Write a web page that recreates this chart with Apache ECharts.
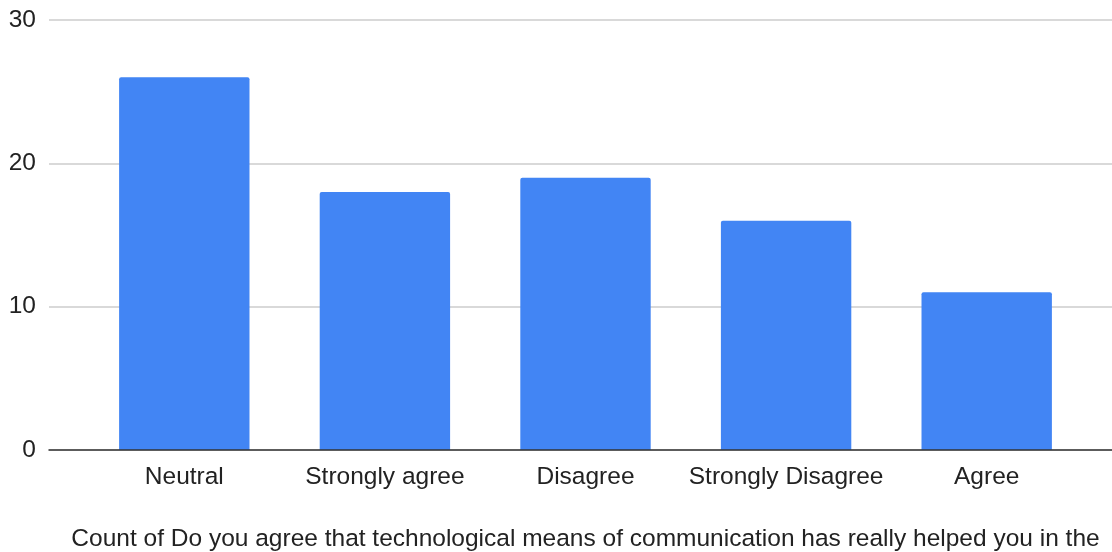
<!DOCTYPE html>
<html>
<head>
<meta charset="utf-8">
<script src="https://cdn.jsdelivr.net/npm/echarts@6/dist/echarts.min.js"></script>
<style>
  html, body { margin: 0; padding: 0; background: #fff; }
  #chart { width: 1112px; height: 552px; }
</style>
</head>
<body>
<div id="chart"></div>
<script>
// Survey answers and their counts
const categories = ['Neutral', 'Strongly agree', 'Disagree', 'Strongly Disagree', 'Agree'];
const counts = [26, 18, 19, 16, 11];
const yTicks = [0, 10, 20, 30];
const axisTitle = 'Count of Do you agree that technological means of communication has really helped you in the';

const FONT = '"Liberation Sans", Arial, sans-serif';
const TEXT = '#222';
const SIZE = 24.5;

const chart = echarts.init(document.getElementById('chart'));
chart.setOption({
  animation: false,
  backgroundColor: '#fff',
  textStyle: { fontFamily: FONT },
  grid: [
    // bars
    { left: 84, right: 25, top: 20, bottom: 102, outerBoundsMode: 'none' },
    // value scale, gridlines and baseline spanning the full width
    { left: 49, right: 0, top: 20, bottom: 102, outerBoundsMode: 'none' }
  ],
  xAxis: [
    {
      gridIndex: 0,
      type: 'category',
      data: categories,
      axisLine: { show: false },
      axisTick: { show: false },
      axisLabel: { interval: 0, margin: 15, fontSize: SIZE, color: TEXT, fontFamily: FONT },
      name: axisTitle,
      nameLocation: 'middle',
      nameGap: 77,
      nameTextStyle: { fontSize: SIZE, color: TEXT, fontFamily: FONT }
    },
    {
      gridIndex: 1,
      type: 'value',
      min: 0,
      max: 1,
      z: 5,
      axisLine: { show: true, lineStyle: { color: '#333', width: 1.5 } },
      axisTick: { show: false },
      axisLabel: { show: false },
      splitLine: { show: false }
    }
  ],
  yAxis: [
    {
      gridIndex: 0,
      type: 'value',
      min: yTicks[0],
      max: yTicks[yTicks.length - 1],
      interval: 10,
      show: false
    },
    {
      gridIndex: 1,
      type: 'value',
      min: yTicks[0],
      max: yTicks[yTicks.length - 1],
      interval: 10,
      axisLine: { show: false },
      axisTick: { show: false },
      axisLabel: { margin: 13, fontSize: SIZE, color: TEXT, fontFamily: FONT, padding: [6, 0, 0, 0] },
      splitLine: { show: true, lineStyle: { color: '#cccccc', width: 1.5 } }
    }
  ],
  series: [
    {
      type: 'bar',
      xAxisIndex: 0,
      yAxisIndex: 0,
      data: counts,
      barWidth: '65%',
      itemStyle: { color: '#4285F4', borderRadius: [2, 2, 0, 0] }
    }
  ]
});
</script>
</body>
</html>
